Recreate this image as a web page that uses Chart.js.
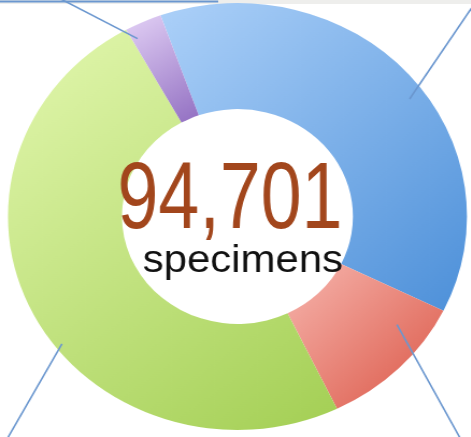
<!DOCTYPE html>
<html>
<head>
<meta charset="utf-8">
<script src="https://cdn.jsdelivr.net/npm/chart.js@4.4.1/dist/chart.umd.min.js"></script>
<style>
  html, body { margin: 0; padding: 0; background: #fff; overflow: hidden; }
  #wrap { position: relative; width: 438px; height: 437px; transform: scaleX(1.075); transform-origin: 0 0; }
  #wrap canvas { filter: blur(0.5px); }
</style>
</head>
<body>
<div id="wrap"><canvas id="donut"></canvas></div>
<script>
// segment labels are cut off in the picture, only the ring is visible
const groups   = ['Blue', 'Red', 'Green', 'Purple'];
const counts   = [35722, 10021, 46480, 2478];
const unitText = 'specimens';

// light -> dark shade for each ring segment
const shades = [
  ['#aacff8', '#4a8ed8'],
  ['#f5b0a8', '#d9503f'],
  ['#e2f7ae', '#a2ce52'],
  ['#ddcaf2', '#8c68be']
];

function segFill(c) {
  const arc = c.chart.getDatasetMeta(0).data[c.dataIndex];
  const pair = shades[c.dataIndex];
  if (!arc || !arc.outerRadius) return pair[1];
  // bounding box of the arc, sampled along both rims
  let x0 = Infinity, y0 = Infinity, x1 = -Infinity, y1 = -Infinity;
  for (let k = 0; k <= 24; k++) {
    const a = arc.startAngle + (arc.endAngle - arc.startAngle) * k / 24;
    [arc.innerRadius, arc.outerRadius].forEach(r => {
      const px = arc.x + r * Math.cos(a), py = arc.y + r * Math.sin(a);
      x0 = Math.min(x0, px); x1 = Math.max(x1, px);
      y0 = Math.min(y0, py); y1 = Math.max(y1, py);
    });
  }
  const g = c.chart.ctx.createLinearGradient(x0, y0, x1, y1);
  g.addColorStop(0, pair[0]);
  g.addColorStop(1, pair[1]);
  return g;
}

// callout lines: where they leave each segment and which way they run
const leaders = [
  { at: 0.54, r: 0.93, dx: 57,  dy: -90 },
  { at: 0.26, r: 0.86, dx: 58,  dy: 112 },
  { at: 0.44, r: 0.97, dx: -51, dy: 95 },
  { at: 0.15, r: 0.94, dx: -72, dy: -40 }
];

const decor = {
  id: 'decor',
  beforeDatasetsDraw(chart) {
    const ctx = chart.ctx;
    ctx.save();
    ctx.fillStyle = '#eeeeec';
    ctx.fillRect(0, 0, chart.width, 4);
    ctx.restore();
  },
  afterDraw(chart) {
    const ctx = chart.ctx;
    const arcs = chart.getDatasetMeta(0).data;
    const cx = arcs[0].x, cy = arcs[0].y;

    ctx.save();
    ctx.strokeStyle = '#6b97cf';
    ctx.lineWidth = 1.6;
    arcs.forEach((arc, i) => {
      const L = leaders[i];
      const a = arc.startAngle + (arc.endAngle - arc.startAngle) * L.at;
      const px = arc.x + arc.outerRadius * L.r * Math.cos(a);
      const py = arc.y + arc.outerRadius * L.r * Math.sin(a);
      ctx.beginPath();
      ctx.moveTo(px, py);
      ctx.lineTo(px + L.dx * 3, py + L.dy * 3);
      ctx.stroke();
    });
    // bottom edge of the cut-off label box at the top
    ctx.lineWidth = 2;
    ctx.beginPath();
    ctx.moveTo(0, 1.5);
    ctx.lineTo(203, 1.5);
    ctx.stroke();
    ctx.restore();

    const total = counts.reduce((s, v) => s + v, 0);
    ctx.save();
    ctx.textAlign = 'center';
    ctx.textBaseline = 'alphabetic';
    ctx.fillStyle = '#a2461c';
    ctx.translate(cx - 7, cy + 11);
    ctx.scale(0.72, 1);
    ctx.font = '95px "Liberation Sans", Arial, sans-serif';
    ctx.fillText(total.toLocaleString('en-US'), 0, 0);
    ctx.restore();

    ctx.save();
    ctx.textAlign = 'center';
    ctx.fillStyle = '#111';
    ctx.font = '39px "Liberation Sans", Arial, sans-serif';
    ctx.fillText(unitText, cx + 5, cy + 55);
    ctx.restore();
  }
};

const chart = new Chart(document.getElementById('donut'), {
  type: 'doughnut',
  data: {
    labels: groups,
    datasets: [{
      data: counts,
      backgroundColor: segFill,
      borderWidth: 0,
      hoverOffset: 0
    }]
  },
  options: {
    responsive: true,
    maintainAspectRatio: false,
    animation: false,
    rotation: -19.6,
    cutout: '50.3%',
    layout: { padding: { top: 3, bottom: 7, left: 7.4, right: 3.6 } },
    plugins: { legend: { display: false }, tooltip: { enabled: false } }
  },
  plugins: [decor]
});
chart.update();
</script>
</body>
</html>
